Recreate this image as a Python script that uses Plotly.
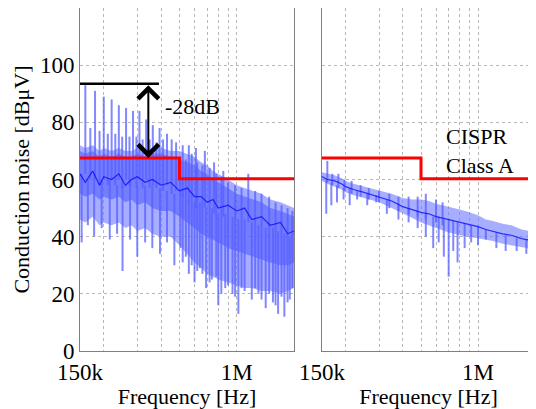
import math
import plotly.graph_objects as go

# ---------------- data ----------------
# Left panel (without countermeasure) - envelope frequencies in kHz
env_f_L = [150, 160, 175, 190, 200, 220, 240, 260, 280, 300, 330, 360, 400, 450, 500,
           550, 600, 650, 700, 750, 800, 900, 1000, 1100, 1200, 1350, 1500, 1700, 1850, 2000]
outer_hi_L = [72, 71, 72, 70, 71, 70, 71, 70, 70, 71, 70, 71, 71, 70, 70,
              69, 68, 66, 65, 63, 62, 60, 58, 57, 56, 55, 53, 52, 51, 50]
outer_lo_L = [46, 45, 47, 44, 45, 44, 45, 43, 44, 42, 43, 41, 40, 40, 37,
              34, 31, 29, 27, 26, 25, 24, 23, 22, 22, 21, 21, 20, 21, 22]
core_hi_L = [70, 69, 70, 68, 69, 68, 69, 68, 68, 69, 68, 69, 69, 68, 67,
             66, 65, 63, 62, 60, 59, 57, 55, 54, 53, 52, 50, 49, 48, 47]
core_lo_L = [55, 54, 55, 53, 54, 53, 54, 52, 53, 51, 52, 50, 49, 49, 47,
             45, 43, 41, 40, 39, 38, 36, 35, 34, 33, 32, 31, 30, 30, 31]
center_L = [62, 59, 63, 58, 61, 60, 62, 58, 60, 61, 59, 60, 58, 59, 56,
            57, 54, 54, 52, 53, 50, 51, 49, 50, 46, 47, 44, 45, 41, 42]

# Left panel spikes: frequency (kHz), bottom (dB), top (dB)
spike_f_L = [160, 170, 180, 190, 200, 210, 220, 230, 240, 250, 262, 273, 285, 297, 308, 320,
             334, 348, 362, 378, 393, 410, 430, 455, 480, 520, 560, 610, 680, 760, 850, 1150,
             153, 165, 178, 195, 215, 235, 251, 275, 300, 330, 360, 395, 430, 470, 520, 560,
             600, 640, 690, 740, 800, 870, 950, 1020, 1100, 1200, 1300, 1420, 1550, 1650, 1780, 1900,
             505, 540, 580, 620, 660, 720, 780, 830, 900, 980, 1060, 1250, 1350, 1480, 1600, 1720, 1850, 1960]
spike_lo_L = [62, 60, 60, 58, 60, 58, 60, 58, 60, 57, 60, 58, 60, 57, 60, 57,
              60, 57, 58, 57, 58, 56, 58, 55, 56, 54, 52, 50, 50, 48, 47, 45,
              38, 44, 40, 43, 39, 41, 28, 39, 33, 38, 36, 34, 38, 30, 31, 27,
              24, 29, 22, 25, 16, 22, 20, 13, 21, 18, 20, 15, 17, 13, 12, 18,
              36, 33, 30, 28, 27, 24, 26, 20, 23, 19, 22, 22, 18, 20, 16, 19, 17, 22]
spike_hi_L = [93, 78, 91, 77, 89, 76, 88, 76, 86, 75, 85, 75, 84, 75, 84, 74,
              81, 74, 79, 73, 78, 74, 76, 74, 73, 72, 72, 71, 70, 66, 63, 62,
              62, 60, 62, 60, 60, 58, 58, 60, 58, 58, 58, 57, 56, 55, 55, 53,
              52, 52, 50, 50, 48, 48, 47, 46, 46, 45, 44, 43, 43, 42, 41, 40,
              68, 67, 69, 66, 65, 64, 62, 61, 59, 58, 57, 56, 55, 54, 52, 51, 50, 49]

# Right panel (with countermeasure)
env_f_R = [150, 160, 175, 190, 200, 220, 250, 280, 300, 350, 400, 450, 500, 550,
           600, 650, 700, 750, 800, 900, 1000, 1100, 1200, 1350, 1500, 1700, 1850, 2000]
center_R = [61, 60, 59.5, 58.5, 57.5, 56.5, 55.5, 54.5, 54, 52.5, 50.5, 49.5, 48.5, 48,
            47, 46.5, 46, 45.5, 45, 44.2, 43.5, 42.5, 41.8, 41, 40.5, 39.3, 38.8, 38]
hi_R = [62.5, 62, 61.5, 60.5, 59.5, 58.5, 57.5, 56.5, 56, 55, 53.5, 53, 53, 52.5,
        51.5, 51, 50.5, 50, 49.5, 48.5, 47.5, 46, 45.5, 44.5, 44, 42.5, 42, 41]
lo_R = [59.5, 58.5, 57.5, 56.5, 55.5, 54.5, 53.5, 52.5, 52, 50, 48, 46.5, 45, 44,
        43, 42, 41.5, 41, 40.5, 40, 39.5, 39, 38.5, 37.5, 37, 36.5, 36, 35.5]

spike_f_R = [160, 170, 183, 197, 215, 240, 265, 300, 340, 380, 430, 480, 530, 600, 650,
             158, 168, 180, 195, 210, 230, 260, 290, 330, 380, 430, 480, 530, 580, 620,
             660, 700, 740, 780, 850, 920, 1000, 1100, 1250, 1400, 1600, 1800]
spike_lo_R = [59, 58, 57, 56, 55, 54, 53, 52, 50, 49, 48, 47, 46, 45, 44,
              48, 51, 52, 53, 51, 53, 51, 52, 48, 46, 45, 43, 40, 36, 38,
              33, 26, 35, 31, 36, 38, 37, 39, 36, 35, 35, 34]
spike_hi_R = [66.5, 62, 62, 60, 59.5, 58, 57, 56, 55, 54, 54, 54, 55, 53, 52,
              60, 59, 58, 57, 57, 56, 55, 54.5, 53, 51, 50, 49, 48, 47, 47,
              46, 46, 45.5, 45, 44.5, 44, 43.5, 42.5, 41.5, 40.5, 39.5, 39]

# CISPR Class A limit (step)
limit_f = [150, 500, 2000]          # kHz
limit_v = [67.5, 60.3, 60.3]        # dBuV

# -28 dB marker
peak_level = 93.5
marker_f_end = 390                   # kHz, end of horizontal black line
arrow_f = 343                        # kHz

y_ticks = [0, 20, 40, 60, 80, 100]
x_ticks = [150e3, 1e6]
x_tick_text = ["150k", "1M"]
x_minor = [200e3, 300e3, 400e3, 500e3, 600e3, 700e3, 800e3, 900e3, 2e6]

FONT = "Liberation Serif"
TICK_SIZE = 23
TITLE_SIZE = 22
# ----------------------------------------------------------------

k = 1000.0
fig = go.Figure()


def add_panel(xa, ya, f, hi_out, lo_out, hi_core, lo_core, center, sf, slo, shi):
    xs = [v * k for v in f]
    fig.add_trace(go.Scatter(x=xs, y=lo_out, xaxis=xa, yaxis=ya, mode="lines",
                             line=dict(width=0), hoverinfo="skip", showlegend=False))
    fig.add_trace(go.Scatter(x=xs, y=hi_out, xaxis=xa, yaxis=ya, mode="lines",
                             line=dict(width=0), fill="tonexty",
                             fillcolor="rgba(110,120,255,0.6)", hoverinfo="skip", showlegend=False))
    if hi_core is not None:
        fig.add_trace(go.Scatter(x=xs, y=lo_core, xaxis=xa, yaxis=ya, mode="lines",
                                 line=dict(width=0), hoverinfo="skip", showlegend=False))
        fig.add_trace(go.Scatter(x=xs, y=hi_core, xaxis=xa, yaxis=ya, mode="lines",
                                 line=dict(width=0), fill="tonexty",
                                 fillcolor="rgba(75,85,255,0.55)", hoverinfo="skip", showlegend=False))
    sx, sy = [], []
    for fq, a, b in zip(sf, slo, shi):
        sx += [fq * k, fq * k, None]
        sy += [a, b, None]
    fig.add_trace(go.Scatter(x=sx, y=sy, xaxis=xa, yaxis=ya, mode="lines",
                             line=dict(color="rgba(85,95,255,0.75)", width=2),
                             hoverinfo="skip", showlegend=False))
    fig.add_trace(go.Scatter(x=xs, y=center, xaxis=xa, yaxis=ya, mode="lines",
                             line=dict(color="rgba(10,10,255,0.8)", width=1.2),
                             hoverinfo="skip", showlegend=False))
    fig.add_trace(go.Scatter(x=[v * k for v in limit_f], y=limit_v, xaxis=xa, yaxis=ya,
                             mode="lines", line=dict(color="#ff0000", width=3, shape="hv"),
                             hoverinfo="skip", showlegend=False))


add_panel("x", "y", env_f_L, outer_hi_L, outer_lo_L, core_hi_L, core_lo_L, center_L,
          spike_f_L, spike_lo_L, spike_hi_L)
add_panel("x2", "y2", env_f_R, hi_R, lo_R, None, None, center_R,
          spike_f_R, spike_lo_R, spike_hi_R)

fig.add_trace(go.Scatter(x=[limit_f[0] * k, marker_f_end * k], y=[peak_level, peak_level],
                         xaxis="x", yaxis="y", mode="lines",
                         line=dict(color="black", width=2.5), hoverinfo="skip", showlegend=False))

annotations = [
    dict(x=math.log10(arrow_f * k), y=limit_v[0], ax=math.log10(arrow_f * k), ay=peak_level,
         xref="x", yref="y", axref="x", ayref="y", showarrow=True, text="",
         arrowhead=4, startarrowhead=4, arrowside="end+start", arrowwidth=2,
         arrowsize=2, startarrowsize=2, arrowcolor="black", standoff=0, startstandoff=0),
    dict(x=math.log10(409e3), y=85.6, xref="x", yref="y", text="-28dB", showarrow=False,
         xanchor="left", yanchor="middle", font=dict(family=FONT, size=TITLE_SIZE, color="black")),
    dict(x=math.log10(665e3), y=70, xref="x2", yref="y2", text="CISPR<br>Class A",
         showarrow=False, xanchor="left", yanchor="middle", align="left",
         font=dict(family=FONT, size=TITLE_SIZE, color="black")),
]

axis_common = dict(
    type="log", range=[math.log10(150e3), math.log10(2e6)],
    tickvals=x_ticks, ticktext=x_tick_text, ticks="",
    showgrid=True, gridcolor="#b8b8b8", griddash="dot", gridwidth=1,
    minor=dict(tickvals=x_minor, showgrid=True, gridcolor="#b8b8b8", griddash="dot",
               gridwidth=1, ticks=""),
    showline=True, linecolor="#808080", linewidth=1, mirror=True,
    zeroline=False,
    tickfont=dict(family=FONT, size=TICK_SIZE, color="black"),
    title=dict(text="Frequency [Hz]", font=dict(family=FONT, size=TITLE_SIZE, color="black"),
               standoff=0),
)
yaxis_common = dict(
    range=[0, 120], tickvals=y_ticks, ticks="",
    showgrid=True, gridcolor="#b8b8b8", griddash="dot", gridwidth=1,
    showline=True, linecolor="#808080", linewidth=1, mirror=True, zeroline=False,
    tickfont=dict(family=FONT, size=TICK_SIZE, color="black"),
)

# The page body has an 8 px default margin, so the figure is 8 px smaller
# than the window and the plot margins are offset accordingly.
fig.update_layout(
    width=528, height=401,
    margin=dict(l=72, r=1, t=0, b=58),
    paper_bgcolor="white", plot_bgcolor="white",
    showlegend=False,
    xaxis=dict(domain=[0, 214 / 455], anchor="y", **axis_common),
    xaxis2=dict(domain=[242 / 455, 1], anchor="y2", **axis_common),
    yaxis=dict(anchor="x", **yaxis_common,
               title=dict(text="Conduction noise [dBμV]",
                          font=dict(family=FONT, size=TITLE_SIZE, color="black"), standoff=4)),
    yaxis2=dict(anchor="x2", showticklabels=False, **yaxis_common),
    annotations=annotations,
)

fig.write_html("out.html")
